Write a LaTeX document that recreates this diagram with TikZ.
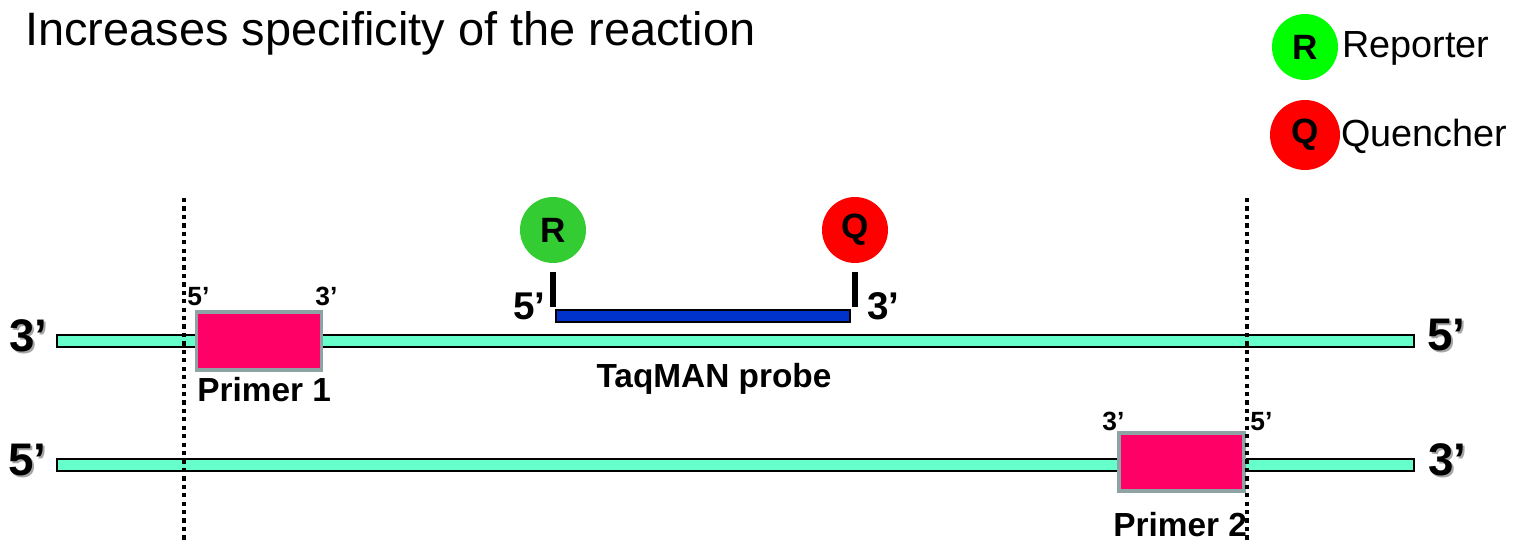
\documentclass[tikz,border=0pt]{standalone}
\usepackage{fontspec}
\setmainfont{Liberation Sans}
\usetikzlibrary{positioning,calc}
\definecolor{strandc}{HTML}{66FFCC}
\definecolor{primerc}{HTML}{FF0066}
\definecolor{primerb}{HTML}{8EA4A4}
\definecolor{probec}{HTML}{0033CC}
\definecolor{repc}{HTML}{33CC33}
\definecolor{replg}{HTML}{00FF00}
\definecolor{quec}{HTML}{FF0000}
\newcommand{\pr}{\textquoteright}

\begin{document}
\begin{tikzpicture}[
  x=0.02cm, y=0.02cm,
  strand/.style={draw=black, line width=0.9pt, fill=strandc, inner sep=0pt,
                 minimum width=27.14cm, minimum height=0.24cm},
  primer/.style={draw=primerb, line width=2.2pt, fill=primerc, inner sep=0pt,
                 minimum width=2.5cm, minimum height=1.15cm},
  dye/.style={circle, inner sep=0pt, minimum size=1.32cm, font=\fontsize{20}{20}\selectfont\bfseries},
  endlbl/.style={anchor=base west, inner sep=0pt, font=\fontsize{26}{26}\selectfont\bfseries},
  sml/.style={anchor=base west, inner sep=0pt, font=\fontsize{15}{15}\selectfont\bfseries},
  lbl/.style={inner sep=0pt, font=\fontsize{19}{19}\selectfont\bfseries},
  tick/.style={line width=3pt},
  bound/.style={line width=2.8pt, dash pattern=on 2.4pt off 2.4pt}
]
\useasboundingbox (0,0) rectangle (1525,544);

% =============== header and legend ===============
\node[anchor=base west, inner sep=0pt, font=\fontsize{26.7}{26.7}\selectfont] (title) at (25,498)
  {Increases specificity of the reaction};

\node[dye, fill=replg, minimum size=1.32cm] (lgr) at (1305,497) {R};
\node[dye, fill=quec, minimum size=1.4cm]   (lgq) at (1305,409) {Q};
\node[anchor=base west, inner sep=0pt, font=\fontsize{21.5}{21.5}\selectfont] (lgrt) at (1342,486) {Reporter};
\node[anchor=base west, inner sep=0pt, font=\fontsize{21.5}{21.5}\selectfont] (lgqt) at (1341,397) {Quencher};

% =============== amplicon boundaries ===============
\coordinate (b1t) at (184,346);
\coordinate (b1b) at (184,0);
\coordinate (b2t) at (1247,346);
\coordinate (b2b) at (1247,0);

% =============== strands ===============
\node[strand] (top) at (735.5,203) {};
\node[strand] (bot) at (735.5,79)  {};

% end labels, each with its grey shadow behind
\foreach \nm/\x/\y/\t in {tl/9/192/3, tr/1427/193/5, bl/8/68/5, br/1428/68/3}{
  \node[endlbl, text=black!35] (\nm s) at (\x+2,\y-2) {\t\pr};
  \node[endlbl] (\nm) at (\x,\y) {\t\pr};
}

% =============== primers ===============
\node[primer] (p1) at (259,203)    {};
\node[primer] (p2) at (1181.5,82)  {};
\node[sml] (p1a) at (187,238)  {5\pr};
\node[sml] (p1b) at (315,238)  {3\pr};
\node[sml] (p2a) at (1102,113) {3\pr};
\node[sml] (p2b) at (1250,113) {5\pr};
\node[lbl, anchor=base west] (p1t) at (197,142)  {Primer 1};
\node[lbl, anchor=base west] (p2t) at (1113,7)   {Primer 2};

\draw[bound] (b1t) -- (b1b);
\draw[bound] (b2t) -- (b2b);

% =============== probe ===============
\node[draw=black, line width=0.7pt, fill=probec, inner sep=0pt,
      minimum width=5.88cm, minimum height=0.24cm] (probe) at (703,228) {};
\node[dye, fill=repc] (rp) at (553,314) {R};
\node[dye, fill=quec] (qp) at (855,314) {Q};
\draw[tick] (rp.south) ++(0,-9) -- ++(0,-35);
\draw[tick] (qp.south) ++(0,-9) -- ++(0,-35);
\node[anchor=base west, inner sep=0pt, font=\fontsize{22}{22}\selectfont\bfseries] (pr5) at (513,224) {5\pr};
\node[anchor=base west, inner sep=0pt, font=\fontsize{22}{22}\selectfont\bfseries] (pr3) at (867,224) {3\pr};
\node[lbl, anchor=base] (probet) at (714,156) {TaqMAN probe};
\end{tikzpicture}
\end{document}
